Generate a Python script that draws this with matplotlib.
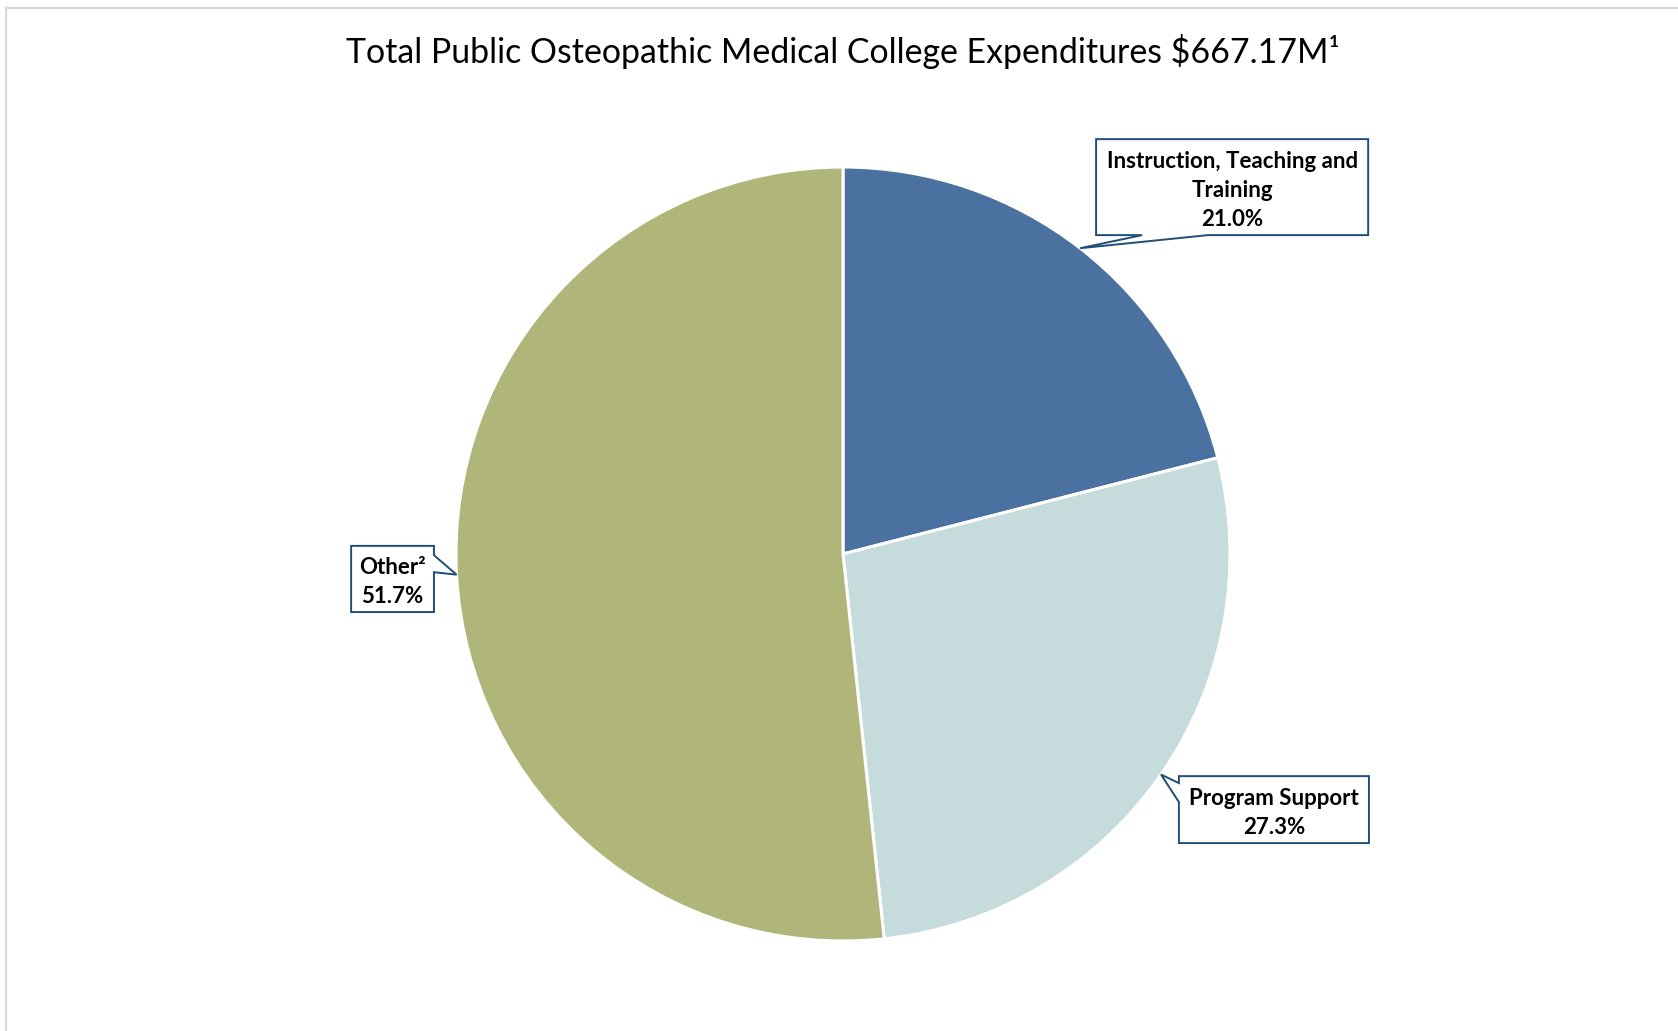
"""
Pie of public osteopathic medical college expenditures, with boxed callouts.
Saves out.png (1678x1031).
"""

import numpy as np
import matplotlib.pyplot as plt
from matplotlib.patches import Polygon
from matplotlib.lines import Line2D

TITLE = "Total Public Osteopathic Medical College Expenditures $667.17M\u00b9"
LABELS = ["Instruction, Teaching and\nTraining", "Program Support", "Other\u00b2"]
SHARES = [21.0, 27.3, 51.7]
COLORS = ["#4A71A0", "#C5DBDC", "#B0B67A"]

W, H, DPI = 1678, 1031, 100
CX, CY, R = 843, 554, 387   # pie centre / radius in pixels

# callout boxes in pie units (x0, y_top, x1, y_bottom), which edge the pointer
# leaves from and the two points along that edge
BOXES = [
    ((0.654, 1.072, 1.357, 0.824), "bottom", (0.773, 0.943)),
    ((0.868, -0.574, 1.359, -0.747), "left", (-0.592, -0.641)),
    ((-1.271, 0.021, -1.057, -0.150), "right", (-0.003, -0.047)),
]


def callout_path(box, side, span, tip):
    x0, yt, x1, yb = box
    a, b = span
    if side == "bottom":
        pts = [(x0, yt), (x1, yt), (x1, yb), (b, yb), tip, (a, yb), (x0, yb)]
    elif side == "left":
        pts = [(x0, yt), (x1, yt), (x1, yb), (x0, yb), (x0, b), tip, (x0, a)]
    else:  # right
        pts = [(x0, yt), (x1, yt), (x1, a), tip, (x1, b), (x1, yb), (x0, yb)]
    return pts


def main():
    plt.rcParams["font.family"] = ["Lato", "DejaVu Sans"]
    fig = plt.figure(figsize=(W / DPI, H / DPI), dpi=DPI)
    ax = fig.add_axes([0, 0, 1, 1])

    wedges, _ = ax.pie(SHARES, colors=COLORS, startangle=90, counterclock=False,
                       radius=1.0, center=(0, 0),
                       wedgeprops=dict(edgecolor="white", linewidth=2.2))
    ax.set_xlim(-CX / R, (W - CX) / R)
    ax.set_ylim((CY - H) / R, CY / R)
    ax.set_aspect("auto")
    ax.axis("off")

    pct = np.cumsum([0] + SHARES[:-1])
    for i, (lab, s) in enumerate(zip(LABELS, SHARES)):
        mid = np.deg2rad(90 - (pct[i] + s / 2) * 3.6)
        tip = (np.cos(mid), np.sin(mid))
        box, side, span = BOXES[i]
        poly = Polygon(callout_path(box, side, span, tip), closed=True,
                       facecolor="white", edgecolor="#1F4E79", linewidth=1.4,
                       joinstyle="miter", zorder=5)
        ax.add_patch(poly)
        x0, yt, x1, yb = box
        ax.text((x0 + x1) / 2, (yt + yb) / 2 - 0.008, f"{lab}\n{s:.1f}%",
                ha="center", va="center", fontsize=16, fontweight="bold",
                linespacing=1.48, color="black", zorder=6)

    fig.text(CX / W, 1 - 52 / H, TITLE, ha="center", va="center",
             fontsize=24.4, color="black")

    # light frame on the top and left edges
    gray = "#D9D9D9"
    fig.add_artist(Line2D([5.5 / W, 5.5 / W], [0, 1 - 7.5 / H], color=gray, lw=1.6))
    fig.add_artist(Line2D([5.5 / W, 1], [1 - 7.5 / H, 1 - 7.5 / H], color=gray, lw=1.6))

    fig.savefig("out.png", dpi=DPI)


if __name__ == "__main__":
    main()
